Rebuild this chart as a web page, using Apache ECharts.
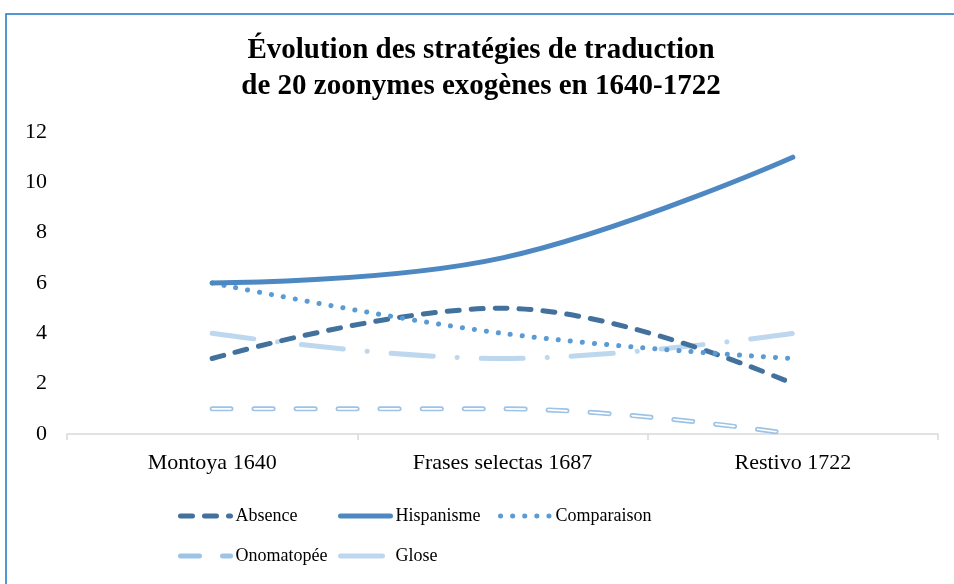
<!DOCTYPE html>
<html>
<head>
<meta charset="utf-8">
<script src="https://cdn.jsdelivr.net/npm/echarts@6/dist/echarts.min.js"></script>
<style>
  html, body { margin: 0; padding: 0; background: #fff; }
  #chart { width: 954px; height: 584px; }
</style>
</head>
<body>
<div id="chart"></div>
<script>
// données
const categories = ["Montoya 1640", "Frases selectas 1687", "Restivo 1722"];
const absence = [3, 5, 2];
const hispanisme = [6, 7, 11];
const comparaison = [6, 4, 3];
const onomatopee = [1, 1, 0];
const glose = [4, 3, 4];
const yTicks = { min: 0, max: 12, interval: 2 };

const serif = "Liberation Serif";
const chart = echarts.init(document.getElementById("chart"));

// une légende par entrée, placée comme dans la grille d'Excel
const legendPos = [
  ["Absence", 173, 502],
  ["Hispanisme", 333, 502],
  ["Comparaison", 493, 502],
  ["Onomatopée", 173, 542],
  ["Glose", 333, 542],
];
const legends = legendPos.map(([name, left, top]) => ({
  left: left,
  top: top,
  itemWidth: 50,
  itemHeight: 20,
  itemStyle: { opacity: 0 },
  lineStyle: { width: 5, cap: "round" },
  textStyle: {
    fontFamily: serif,
    fontSize: 18,
    color: "#000",
  },
  data: [name],
}));

const option = {
  backgroundColor: "#fff",
  animation: false,
  graphic: [
    {
      // cadre bleu (seuls les bords haut et gauche sont visibles)
      type: "rect",
      shape: { x: 6, y: 14, width: 1200, height: 900 },
      style: { fill: "none", stroke: "#1a74c4", lineWidth: 1.5 },
      silent: true,
    },
  ],
  title: {
    text: "Évolution des stratégies de traduction\nde 20 zoonymes exogènes en 1640-1722",
    left: 476,
    top: 28,
    textAlign: "center",
    textStyle: {
      fontFamily: serif,
      fontWeight: "bold",
      fontSize: 29,
      lineHeight: 36,
      color: "#000",
    },
  },
  legend: legends,
  grid: { left: 67, right: 16, top: 132, bottom: 150 },
  xAxis: {
    type: "category",
    data: categories,
    boundaryGap: true,
    axisLine: { lineStyle: { color: "#d9d9d9", width: 1.5 } },
    axisTick: { show: true, length: 6, lineStyle: { color: "#d9d9d9", width: 1.5 } },
    axisLabel: { fontFamily: serif, fontSize: 22, color: "#000", margin: 18 },
    splitLine: { show: false },
  },
  yAxis: {
    type: "value",
    min: yTicks.min,
    max: yTicks.max,
    interval: yTicks.interval,
    axisLine: { show: false },
    axisTick: { show: false },
    splitLine: { show: false },
    axisLabel: { fontFamily: serif, fontSize: 22, color: "#000", margin: 20 },
  },
  series: [
    {
      name: "Absence",
      type: "line",
      data: absence,
      smooth: 0.4,
      symbol: "none",
      color: "#41719c",
      lineStyle: { color: "#41719c", width: 5, type: [12, 12], cap: "round" },
      z: 3,
    },
    {
      name: "Hispanisme",
      type: "line",
      data: hispanisme,
      smooth: 0.4,
      symbol: "none",
      color: "#4e88c2",
      lineStyle: { color: "#4e88c2", width: 5, cap: "round" },
      z: 4,
    },
    {
      name: "Comparaison",
      type: "line",
      data: comparaison,
      smooth: 0.4,
      symbol: "none",
      color: "#5b9bd5",
      lineStyle: { color: "#5b9bd5", width: 5, type: [0.1, 12], cap: "round" },
      z: 3,
    },
    {
      name: "Onomatopée",
      type: "line",
      data: onomatopee,
      smooth: 0.4,
      symbol: "none",
      color: "#9dc3e6",
      lineStyle: { color: "#9dc3e6", width: 5, type: [19, 23], cap: "round" },
      z: 2,
    },
    {
      // trait intérieur blanc : effet de ligne double
      name: "Onomatopée",
      type: "line",
      data: onomatopee,
      smooth: 0.4,
      symbol: "none",
      color: "#9dc3e6",
      lineStyle: { color: "#fff", width: 1.6, type: [19, 23], cap: "round" },
      z: 2,
    },
    {
      name: "Glose",
      type: "line",
      data: glose,
      smooth: 0.4,
      symbol: "none",
      color: "#bdd7ee",
      lineStyle: { color: "#bdd7ee", width: 5, type: [42, 24, 0.1, 24], cap: "round" },
      z: 1,
    },
  ],
};

chart.setOption(option);
</script>
</body>
</html>
